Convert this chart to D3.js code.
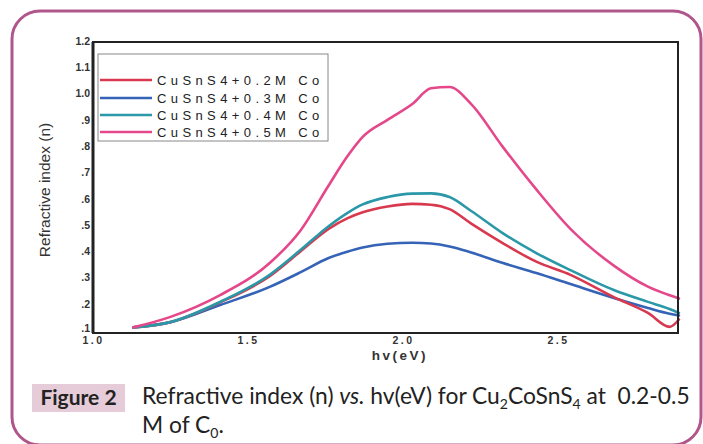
<!DOCTYPE html>
<html><head><meta charset="utf-8">
<script src="https://cdn.jsdelivr.net/npm/d3@7"></script>
<style>html,body{margin:0;padding:0;background:#fff;overflow:hidden}</style>
</head><body>
<svg id="c" width="703" height="444"></svg>
<script>
const energy = [1.13, 1.25, 1.41, 1.57, 1.67, 1.76, 1.82, 1.87, 1.95, 2.03, 2.09, 2.15, 2.22, 2.32, 2.43, 2.54, 2.68, 2.79, 2.86, 2.89];
const n02 = [0.11, 0.13, 0.205, 0.305, 0.40, 0.485, 0.525, 0.548, 0.57, 0.58, 0.577, 0.56, 0.505, 0.432, 0.36, 0.31, 0.225, 0.165, 0.112, 0.14];
const n03 = [0.11, 0.13, 0.195, 0.264, 0.32, 0.374, 0.398, 0.414, 0.428, 0.432, 0.429, 0.418, 0.395, 0.356, 0.317, 0.275, 0.222, 0.184, 0.162, 0.155];
const n04 = [0.11, 0.13, 0.207, 0.31, 0.405, 0.495, 0.545, 0.578, 0.606, 0.619, 0.62, 0.606, 0.553, 0.47, 0.393, 0.328, 0.252, 0.207, 0.18, 0.165];
const n05 = [0.11, 0.15, 0.233, 0.355, 0.48, 0.65, 0.76, 0.835, 0.90, 0.96, 1.02, 1.025, 0.96, 0.80, 0.635, 0.485, 0.345, 0.265, 0.232, 0.22];
const seriesNames = ["CuSnS4+0.2M Co", "CuSnS4+0.3M Co", "CuSnS4+0.4M Co", "CuSnS4+0.5M Co"];
const seriesColors = ["#d8394f", "#3563b6", "#2b98a8", "#e4488b"];
const xTicks = [1.0, 1.5, 2.0, 2.5];
const xTickLabels = ["1.0", "1.5", "2.0", "2.5"];
const yTicks = [0.1, 0.2, 0.3, 0.4, 0.5, 0.6, 0.7, 0.8, 0.9, 1.0, 1.1, 1.2];
const yTickLabels = [".1", ".2", ".3", ".4", ".5", ".6", ".7", ".8", ".9", "1.0", "1.1", "1.2"];

const svg = d3.select("#c");
// card
svg.append("rect").attr("x", 12).attr("y", 11).attr("width", 689).attr("height", 434)
  .attr("rx", 28).attr("fill", "none").attr("stroke", "#b0568b").attr("stroke-width", 3);

const L = 93, R = 678, T = 42, B = 333;
const x = d3.scaleLinear().domain([1.0, 2.887]).range([L, R]);
const y = d3.scaleLinear().domain([0.1, 1.2]).range([330, 41]);

const series = [n02, n03, n04, n05];
const line = d3.line().x((d, i) => x(energy[i])).y(d => y(d)).curve(d3.curveMonotoneX);
[1, 0, 2, 3].forEach(k => {
  svg.append("path").attr("d", line(series[k])).attr("fill", "none")
    .attr("stroke", seriesColors[k]).attr("stroke-width", 2.6).attr("stroke-linecap", "round")
    .attr("stroke-linejoin", "round");
});

// frame
svg.append("rect").attr("x", L).attr("y", T).attr("width", R - L).attr("height", B - T)
  .attr("fill", "none").attr("stroke", "#222").attr("stroke-width", 2);
svg.append("line").attr("x1", L).attr("x2", L).attr("y1", T).attr("y2", B).attr("stroke", "#222").attr("stroke-width", 3);

// axes
const xAxis = d3.axisBottom(x).tickValues(xTicks).tickSize(0).tickPadding(4).tickFormat((d, i) => xTickLabels[i]);
const gx = svg.append("g").attr("transform", `translate(0,${B})`).call(xAxis);
gx.select(".domain").remove();
gx.selectAll("text").attr("font-family", "Liberation Sans, Arial, sans-serif").attr("font-size", 10.5)
  .attr("font-weight", "bold").attr("fill", "#333").attr("letter-spacing", 2.5);

const yAxis = d3.axisLeft(y).tickValues(yTicks).tickSize(0).tickPadding(3).tickFormat((d, i) => yTickLabels[i]);
const gy = svg.append("g").attr("transform", `translate(${L},0)`).call(yAxis);
gy.select(".domain").remove();
gy.selectAll("text").attr("font-family", "Liberation Sans, Arial, sans-serif").attr("font-size", 10.5)
  .attr("font-weight", "bold").attr("fill", "#333");
gy.selectAll(".tick").filter(d => d === 0.1).select("text").attr("dy", "0.1em");

svg.append("text").attr("x", 400).attr("y", 360).attr("text-anchor", "middle")
  .attr("font-family", "Liberation Sans, Arial, sans-serif").attr("font-size", 13.5).attr("font-weight", "bold")
  .attr("letter-spacing", 2.5).attr("fill", "#333").text("hv(eV)");
svg.append("text").attr("transform", "translate(50,190) rotate(-90)").attr("text-anchor", "middle")
  .attr("font-family", "Liberation Sans, Arial, sans-serif").attr("font-size", 15.5)
  .attr("fill", "#333").text("Refractive index (n)");

// legend
const lg = svg.append("g");
lg.append("rect").attr("x", 98).attr("y", 54).attr("width", 230).attr("height", 87)
  .attr("fill", "#fff").attr("stroke", "#888").attr("stroke-width", 1);
const ly = [80, 98, 115, 132];
seriesNames.forEach((nm, i) => {
  lg.append("line").attr("x1", 100).attr("x2", 152).attr("y1", ly[i]).attr("y2", ly[i])
    .attr("stroke", seriesColors[i]).attr("stroke-width", 2.6);
  lg.append("text").attr("x", 157).attr("y", ly[i] + 4.5)
    .attr("font-family", "Liberation Sans, Arial, sans-serif").attr("font-size", 13)
    .attr("letter-spacing", 4.4).attr("fill", "#222").text(nm);
});

// caption
svg.append("rect").attr("x", 32).attr("y", 384).attr("width", 93).attr("height", 28).attr("fill", "#e6cbd9");
svg.append("text").attr("x", 78.5).attr("y", 405).attr("text-anchor", "middle")
  .attr("font-family", "Lato, Open Sans, sans-serif").attr("font-size", 21).attr("font-weight", "bold")
  .attr("fill", "#222").text("Figure 2");
const cf = "Lato, Open Sans, sans-serif";
const t1 = svg.append("text").attr("x", 142).attr("y", 404).attr("font-family", cf).attr("font-size", 22.8).attr("fill", "#222");
t1.append("tspan").text("Refractive index (n) ");
t1.append("tspan").attr("font-style", "italic").text("vs.");
t1.append("tspan").text(" hv(eV) for Cu");
t1.append("tspan").attr("font-size", 14).attr("dy", 5).text("2");
t1.append("tspan").attr("dy", -5).text("CoSnS");
t1.append("tspan").attr("font-size", 14).attr("dy", 5).text("4");
t1.append("tspan").attr("dy", -5).text(" at \u00a00.2-0.5");
const t2 = svg.append("text").attr("x", 142).attr("y", 433).attr("font-family", cf).attr("font-size", 22.8).attr("fill", "#222");
t2.append("tspan").text("M of C");
t2.append("tspan").attr("font-size", 14).attr("dy", 5).text("0");
t2.append("tspan").attr("dy", -5).text(".");
</script>
</body></html>
